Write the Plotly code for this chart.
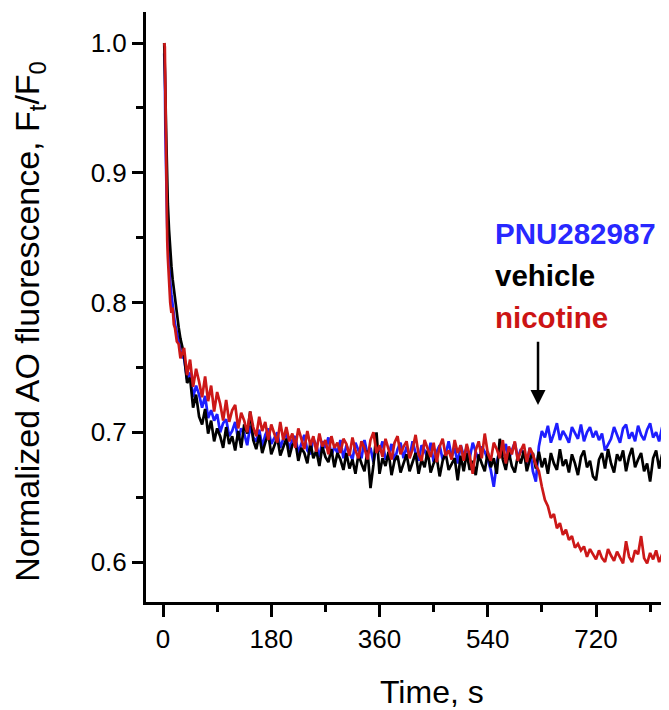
import plotly.graph_objects as go

# sample times (s)
t_early = [2, 3, 4, 5, 6, 7, 8, 10, 12, 14, 16, 18, 20, 23, 26, 29, 32]
t_main = list(range(35, 845, 5))
time_s = t_early + t_main

pnu_early = [.992, .978, .930, .895, .872, .858, .846, .828, .816, .806, .797, .791, .783, .777, .769, .763, .758]
pnu_main = [
    .757, .741, .746, .727, .736, .729, .719, .728, .711, .717, .709, .714, .700, .707,
    .710, .697, .701, .708, .694, .703, .699, .690, .705, .696, .693, .702, .689, .698, .703, .691, .696, .700, .688, .695,
    .699, .687, .694, .697, .684, .692, .698, .686, .683, .695, .690, .681, .693, .688, .696, .682, .689, .684, .694, .680,
    .690, .684, .679, .692, .686, .680, .694, .683, .688, .677, .690, .685, .693, .679, .682, .691, .678, .687, .692, .680,
    .689, .681, .693, .684, .678, .690, .686, .680, .692, .677, .685, .690, .679, .683, .693, .681, .688, .676, .690, .682,
    .688, .680, .692, .684, .678, .689, .685, .679, .671, .658, .676, .688, .682, .691, .679, .686, .692, .680, .687, .683, .676, .688, .670, .662,
    .689, .701, .696, .705, .692, .699, .707, .694, .701, .697,
    .692, .704, .699, .695, .706, .693, .700, .704, .696, .701,
    .694, .699, .686, .690, .695, .704, .698, .692, .703, .706,
    .695, .700, .693, .705, .698, .694, .702, .707, .696, .700,
    .693, .704, .697, .701,
]

vehicle_early = [1.0, .985, .960, .935, .912, .893, .876, .856, .840, .828, .818, .810, .800, .790, .781, .772, .765]
vehicle_main = [
    .760, .738, .742, .719, .729, .712, .706, .718, .699, .709, .693, .703, .697, .688,
    .704, .691, .697, .686, .701, .688, .706, .699, .716, .694, .687, .698, .684, .692, .699, .683, .690, .696, .682, .688,
    .695, .681, .690, .693, .678, .688, .684, .676, .692, .680, .686, .674, .689, .681, .677, .687, .673, .684, .679, .671,
    .684, .672, .679, .668, .683, .676, .670, .686, .657, .675, .700, .668, .680, .674, .685, .667, .678, .682, .669, .676,
    .683, .670, .677, .684, .668, .679, .673, .686, .669, .676, .681, .666, .678, .684, .671, .676, .680, .663, .682, .670,
    .684, .671, .678, .667, .683, .676, .670, .685, .673, .680, .668, .695, .679, .671, .685, .674, .669, .682, .676, .686, .670, .679, .684, .672,
    .685, .673, .680, .668, .684, .676, .671, .687, .674, .679,
    .669, .683, .676, .667, .681, .686, .673, .678, .666, .663,
    .679, .684, .672, .687, .676, .669, .683, .678, .686, .670,
    .681, .688, .673, .679, .684, .670, .676, .662, .680, .686,
    .672, .683, .676, .681,
]

nicotine_early = [1.0, .997, .960, .910, .870, .848, .835, .812, .800, .792, .796, .783, .780, .770, .768, .757, .762]
nicotine_main = [
    .765, .744, .756, .735, .749, .739, .727, .743, .724, .736, .716, .731, .722, .709,
    .725, .708, .717, .721, .703, .715, .709, .700, .716, .704, .697, .712, .701, .708, .694, .706, .699, .692, .708, .694,
    .704, .693, .699, .688, .703, .695, .687, .701, .690, .697, .685, .699, .689, .694, .683, .697, .688, .692, .684, .695,
    .691, .682, .696, .686, .680, .693, .688, .679, .694, .700, .684, .690, .681, .695, .686, .679, .692, .697, .683, .689,
    .693, .680, .687, .698, .683, .678, .694, .688, .681, .692, .677, .689, .695, .682, .686, .679, .694, .684, .690, .678,
    .691, .682, .668, .686, .693, .680, .699, .684, .678, .692, .687, .680, .694, .676, .689, .683, .693, .678, .686, .691, .677, .688, .683, .675,
    .670, .658, .648, .643, .634, .637, .626, .630, .621, .625,
    .617, .620, .611, .614, .609, .612, .604, .610, .606, .602,
    .609, .603, .600, .610, .605, .601, .608, .603, .599, .616,
    .604, .600, .609, .606, .620, .603, .599, .607, .602, .609,
    .600, .606, .603, .598,
]

series = [
    ("PNU282987", pnu_early + pnu_main, "rgb(30,30,255)"),
    ("vehicle", vehicle_early + vehicle_main, "rgb(0,0,0)"),
    ("nicotine", nicotine_early + nicotine_main, "rgb(204,24,24)"),
]

fig = go.Figure()
for name, vals, col in series:
    n = min(len(time_s), len(vals))
    fig.add_trace(go.Scatter(x=time_s[:n], y=vals[:n], mode="lines", name=name,
                             line=dict(color=col, width=2.7), showlegend=False))

font_family = "Liberation Sans, Arial, sans-serif"

# page body has an 8px margin, so the figure is sized/offset to compensate
fig.update_layout(
    width=661, height=702,
    margin=dict(l=138, r=0, t=4, b=108),
    paper_bgcolor="white", plot_bgcolor="white",
    font=dict(family=font_family, color="black"),
)
fig.update_xaxes(
    range=[-28.3, 841.4], tick0=0, dtick=180, ticks="outside", ticklen=12, tickwidth=2.5,
    tickcolor="black", showline=True, linecolor="black", linewidth=3, showgrid=False,
    zeroline=False, tickfont=dict(size=26, family=font_family),
    minor=dict(dtick=90, tick0=0, ticks="outside", ticklen=7, tickwidth=2.5, tickcolor="black", showgrid=False),
)
fig.update_yaxes(
    range=[0.5692, 1.0239], tick0=0.6, dtick=0.1, tickformat=".1f", ticks="outside", ticklen=11,
    tickwidth=2.5, tickcolor="black", showline=True, linecolor="black", linewidth=3,
    showgrid=False, zeroline=False, tickfont=dict(size=26, family=font_family),
    minor=dict(dtick=0.05, tick0=0.6, ticks="outside", ticklen=7, tickwidth=2.5, tickcolor="black", showgrid=False),
)

# axis titles
fig.add_annotation(text="Time, s", xref="paper", yref="paper", x=0.547, y=-0.1525,
                   xanchor="center", yanchor="middle", showarrow=False,
                   font=dict(size=32, family=font_family, color="black"))
fig.add_annotation(text="Normalized AO fluorescence, F<sub>t</sub>/F<sub>0</sub>",
                   xref="paper", yref="paper", x=(30 - 146) / 523, y=0.475, textangle=-90,
                   xanchor="center", yanchor="middle", showarrow=False, borderpad=0,
                   font=dict(size=34, family=font_family, color="black"))

# labels
labels = [("PNU282987", "rgb(40,40,255)", 0.625), ("vehicle", "black", 0.554), ("nicotine", "rgb(204,20,20)", 0.483)]
for txt, col, yp in labels:
    fig.add_annotation(text="<b>%s</b>" % txt, xref="paper", yref="paper", x=(493 - 146) / 523, y=yp,
                       xanchor="left", yanchor="middle", showarrow=False,
                       font=dict(size=29.5, family=font_family, color=col))

# injection arrow
fig.add_annotation(x=623.6, y=0.721, ax=623.6, ay=0.771, xref="x", yref="y", axref="x", ayref="y",
                   text="", showarrow=True, arrowhead=2, arrowsize=1.2, arrowwidth=2.5, arrowcolor="black")

fig.write_html("out.html")
